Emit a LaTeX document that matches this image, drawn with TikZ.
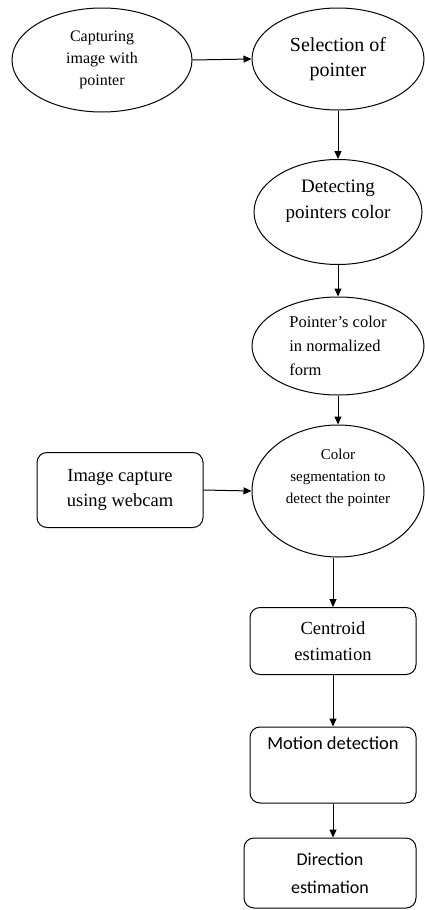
\documentclass[tikz,border=0pt]{standalone}
\usepackage{fontspec}
\setmainfont{Liberation Serif}
\newfontfamily\calibrifont{Carlito}
\usetikzlibrary{shapes.geometric, arrows.meta, positioning}
\tikzset{
  oval/.style={ellipse, draw=black, line width=1pt, inner sep=0pt,
    align=center, text=black},
  roundbox/.style={rectangle, draw=black, rounded corners=10pt,
    line width=1pt, inner sep=0pt, align=center},
  arrow/.style={-{Triangle[length=8pt, width=7pt]}, line width=1pt, color=black}
}
\begin{document}
\begin{tikzpicture}[x=1pt, y=-1pt]
  \useasboundingbox (0,0) rectangle (425,910);

  % Top row
  \node[oval, minimum width=180pt, minimum height=104pt,
    font=\fontsize{16}{22}\selectfont] (cap) at (102,60)
    {Capturing\\image with\\pointer};
  \node[oval, minimum width=172pt, minimum height=102pt,
    font=\fontsize{20}{25}\selectfont] (sel) at (338,59)
    {Selection of\\pointer};

  % Pointer colour
  \node[oval, minimum width=168pt, minimum height=105pt,
    label={[yshift=11pt, align=center, font=\fontsize{19}{26}\selectfont]center:Detecting\\pointers color}]
    (det) at (338,212) {};
  \node[oval, minimum width=172pt, minimum height=98pt, align=left,
    font=\fontsize{16.5}{24}\selectfont] (norm) at (338,346)
    {Pointer's color\\in normalized\\form};

  % Segmentation
  \node[oval, minimum width=172pt, minimum height=132pt,
    label={[yshift=13pt, align=center, font=\fontsize{15}{22}\selectfont]center:Color\\segmentation to\\detect the pointer}]
    (seg) at (338,491) {};
  \node[roundbox, minimum width=166pt, minimum height=75pt,
    font=\fontsize{18.5}{25}\selectfont] (web) at (120,490)
    {Image capture\\using webcam};

  % Estimation boxes
  \node[roundbox, minimum width=166pt, minimum height=67pt,
    font=\fontsize{18.5}{26}\selectfont] (cen) at (333,641)
    {Centroid\\estimation};
  \node[roundbox, minimum width=166pt, minimum height=76pt,
    label={[yshift=22pt, font=\calibrifont\fontsize{18.5}{24}\selectfont]center:Motion detection}]
    (mot) at (333,765) {};
  \node[roundbox, minimum width=172pt, minimum height=70pt,
    font=\calibrifont\fontsize{18}{28}\selectfont] (dir) at (330,873)
    {Direction\\estimation};

  % Connectors
  \draw[arrow] (cap.east) -- (sel.west);
  \draw[arrow] (sel.south) -- (det.north);
  \draw[arrow] (det.south) -- (norm.north);
  \draw[arrow] (norm.south) -- (seg.north);
  \draw[arrow] (web.east) -- (seg.west);
  \draw[arrow] (seg.south -| cen.north) -- (cen.north);
  \draw[arrow] (cen.south) -- (mot.north);
  \draw[arrow] (mot.south) -- (mot.south |- dir.north);
\end{tikzpicture}
\end{document}
